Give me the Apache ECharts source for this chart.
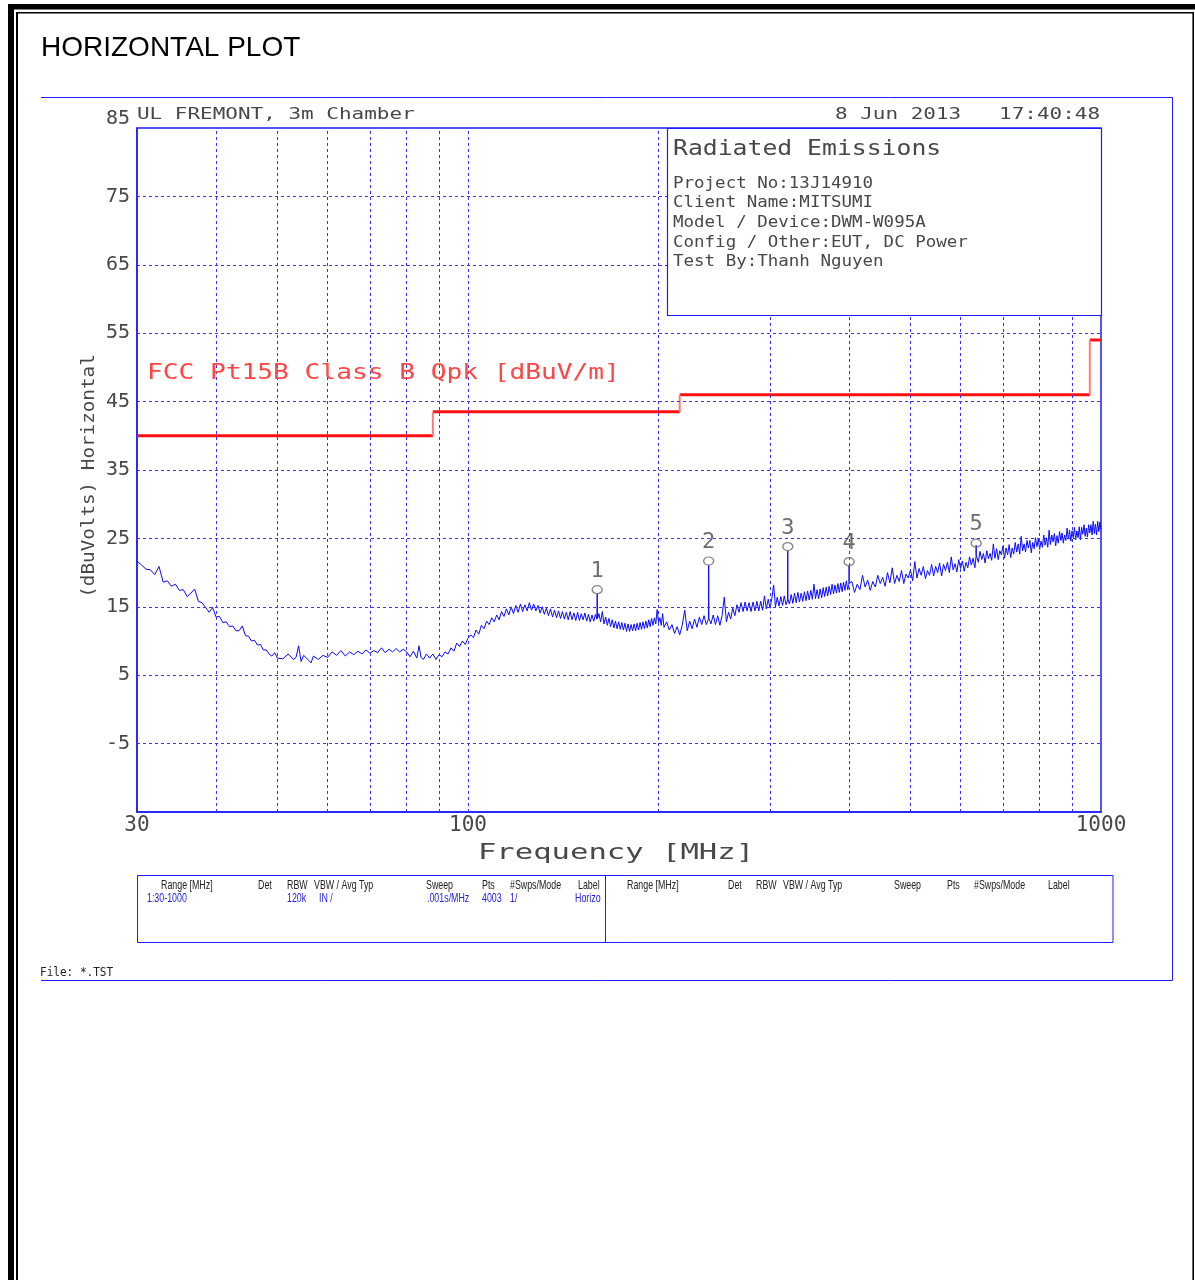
<!DOCTYPE html>
<html><head><meta charset="utf-8">
<script src="https://cdn.jsdelivr.net/npm/echarts@6/dist/echarts.min.js"></script>
<style>html,body{margin:0;padding:0;background:#fff}#c{width:1195px;height:1280px}</style>
</head><body><div id="c"></div>
<script>
// ---------- data ----------
const xTickLabels = [30, 100, 1000];
const xGridMHz = [40, 50, 60, 70, 80, 90, 100, 200, 300, 400, 500, 600, 700, 800, 900];
const yTickLabels = [85, 75, 65, 55, 45, 35, 25, 15, 5, -5];
const limitEdgesMHz = [30, 88, 216, 960, 1000];
const limitLevels = [40, 43.5, 46, 54];
const markerMHz = [160, 240, 320, 400, 635];
const markerLevels = [17.5, 21.7, 23.8, 21.6, 24.3];
const markerNames = ['1', '2', '3', '4', '5'];
const trace = [
[30,21.7],[30.5,21.1],[31,20.5],[31.5,20.4],[32,19.7],[32.5,20.9],[33,18.6],[33.5,18.8],[34,18.0],[34.5,18.3],
[35,17.4],[35.5,17.5],[36,16.5],[36.5,17.0],[37,17.6],[37.5,15.8],[38,15.6],[38.5,14.9],[39,14.2],[39.5,14.9],
[40,13.5],[40.5,13.6],[41,12.7],[41.5,12.8],[42,12.1],[42.5,12.2],[43,11.5],[43.5,11.5],[44,12.2],[44.5,10.8],
[45,10.7],[45.5,10.0],[46,10.1],[46.5,9.4],[47,9.5],[47.5,8.7],[48,8.7],[48.5,8.1],[49,7.8],[49.5,8.3],[50,7.5],
[51,7.4],[52,8.1],[53,7.3],[53.5,7.6],[54,9.3],[54.5,7.0],[55,7.9],[56,7.2],[56.5,6.8],[57,7.8],[58,7.3],[59,7.9],
[60,7.6],[61,8.4],[62,7.9],[63,8.6],[64,7.8],[65,8.4],[66,8.0],[67,8.5],[68,8.1],[69,8.7],[70,8.2],[71,8.6],
[72,8.3],[73,9.0],[74,8.3],[75,8.8],[76,8.4],[77,8.9],[78,8.4],[79,8.8],[80,8.4],[81,7.7],[82,8.5],[83,7.5],
[83.7,9.3],[84.3,7.6],[85,7.3],[86,8.1],[87,7.5],[88,8.1],[89,7.3],[90,8.0],[91,7.7],[92,8.4],[93,8.1],[94,9.0],
[95,8.5],[96,9.7],[97,9.2],[98,10.0],[99,9.5],[100,10.4],
[101,10.9],[102,10.5],[103,11.6],[104,11.0],[105,12.3],[106,11.8],[107,12.9],[108,12.4],[109,13.4],[110,12.8],
[111,13.8],[112,13.1],[113,14.3],[114,13.6],[115,14.7],[116,13.8],[117,15.0],[118,14.0],[119,15.2],[120,14.2],
[121,15.4],[122,14.3],[123,15.3],[124,14.4],[125,15.6],[126,14.5],[127,15.4],[128,14.4],[129,15.2],[130,14.1],
[131,15.0],[132,13.9],[133,14.8],[134,13.7],[135,14.7],[136,13.5],[137,14.5],[138,13.4],[139,14.4],[140,13.3],
[141,14.3],[142,13.2],[143,14.2],[144,13.1],[145,14.3],[146,13.1],[147,14.1],[148,13.0],[149,14.2],[150,13.0],
[151,14.0],[152,13.1],[153,14.1],[154,12.9],[155,13.9],[156,12.8],[157,13.8],[158,12.9],[159,13.9],[159.8,13.2],
[160,16.9],[160.2,13.3],[161,14.0],[162,12.8],[163,14.3],[164,12.5],[165,13.5],[166,12.3],[167,13.3],[168,12.1],
[169,13.1],[170,11.9],[171,12.9],[172,11.8],[173,12.8],[174,11.7],[175,12.7],[176,11.6],[177,12.6],[178,11.4],
[179,12.5],[180,11.4],[181,12.4],[182,11.5],[183,12.5],[184,11.5],[185,12.6],[186,11.6],[187,12.7],[188,11.7],
[189,12.8],[190,11.8],[191,12.9],[192,11.9],[193,13.1],[194,12.1],[195,13.3],[196,12.3],[197,13.4],[198,12.5],
[199,14.6],[200,12.7],[201,13.4],[202,12.3],[203,14.0],[204,12.0],
[206,12.8],[208,11.6],[210,12.4],[212,11.1],[214,12.1],[216,10.9],[218,12.3],[220,14.5],[222,11.5],[224,12.9],
[226,11.8],[228,13.2],[230,12.0],[232,13.5],[234,12.4],[236,13.7],[238,12.4],[239.8,13.2],[240,21.1],[240.2,13.3],
[242,12.5],[244,13.8],[246,12.4],[248,13.7],[250,12.3],[252,13.7],[254,16.4],[256,12.8],[258,14.2],[260,13.2],
[262,14.8],[264,13.7],[266,15.3],[268,14.2],[270,15.6],[272,14.3],[274,15.7],[276,14.4],[278,15.6],[280,14.3],
[282,15.7],[284,14.4],[286,15.8],[288,14.4],[290,15.8],[292,14.5],[294,16.6],[296,14.7],[298,16.1],[300,14.8],
[302,16.2],[304,18.2],[306,15.0],[308,16.4],[310,15.1],[312,16.5],[314,15.2],[316,16.6],[318,15.3],[319.8,16.0],
[320,23.2],[320.2,16.1],[322,15.4],[324,16.8],[326,15.5],[328,17.0],[330,15.6],[332,17.1],[334,15.7],[336,17.0],
[338,15.8],[340,17.2],[342,15.9],[344,17.3],[346,16.0],[348,17.4],[350,16.1],[352,18.3],[354,16.2],[356,17.5],
[358,16.2],[360,17.6],[362,16.3],[364,17.8],[366,16.5],[368,17.9],[370,16.6],[372,18.0],[374,16.8],[376,18.3],
[378,16.9],[380,18.2],[382,17.0],[384,18.4],[386,17.1],[388,18.5],[390,17.2],[392,18.6],[394,17.4],[396,18.8],
[398,17.5],[399.8,18.3],[400,21.0],[400.2,18.4],
[404,18.7],[408,17.1],[412,18.3],[416,17.5],[420,19.6],[424,17.9],[428,18.9],[432,17.4],[436,18.7],[440,17.9],
[444,19.6],[448,18.4],[452,19.3],[456,18.0],[460,20.0],[464,18.5],[468,20.7],[472,18.4],[476,19.6],[480,18.7],
[484,20.3],[488,18.4],[492,19.8],[496,19.2],[500,20.4],[504,18.8],[508,21.6],[512,19.2],[516,20.6],[520,19.6],
[524,20.9],[528,19.1],[532,20.3],[536,19.6],[540,21.2],[544,19.5],[548,20.9],[552,20.0],[556,21.4],[560,19.5],
[564,21.2],[568,20.3],[572,21.5],[576,20.0],[580,22.3],[584,20.4],[588,21.3],[592,20.1],[596,21.9],[600,20.6],
[604,21.7],[608,20.2],[612,21.5],[616,20.7],[620,22.3],[624,21.1],[628,22.1],[632,20.7],[634.8,22.4],[635,24.0],
[635.2,22.6],[640,21.5],[644,23.1],[648,21.9],[652,22.8],[656,21.4],[660,23.2],[664,22.0],[668,22.8],[672,21.8],
[676,24.2],[680,22.1],[684,23.5],[688,21.9],[692,23.2],[696,22.6],[700,23.9],[704,22.1],[708,23.6],[712,22.6],
[716,24.1],[720,22.2],[724,23.6],[728,22.7],[732,24.4],[736,23.0],[740,24.2],[744,22.7],[748,25.3],[752,23.2],
[756,24.2],[760,23.0],[764,24.7],[768,23.6],[772,24.7],[776,22.9],[780,24.4],[784,23.5],[788,25.1],[792,23.8],
[796,24.9],[800,23.4],[804,24.6],[808,23.7],[812,25.5],[816,24.0],[820,25.1],[824,23.7],[828,26.2],[832,24.1],
[836,25.5],[840,24.5],[844,25.7],[848,23.9],[852,25.4],[856,24.3],[860,26.0],[864,24.7],[868,25.8],[872,24.3],
[876,25.5],[880,24.7],[884,26.5],[888,24.9],[892,26.2],[896,24.6],[900,26.1],[904,25.1],[908,26.6],[912,24.8],
[916,26.1],[920,25.1],[924,26.7],[928,24.8],[932,26.6],[936,25.6],[940,27.0],[944,25.3],[948,26.5],[952,25.2],
[956,27.0],[960,25.8],[964,27.0],[968,25.5],[972,27.5],[976,25.7],[980,27.1],[984,25.5],[988,27.5],[992,26.0],
[996,27.4],[1000,26.3]
];
const infoLines = ['Project No:13J14910', 'Client Name:MITSUMI', 'Model / Device:DWM-W095A', 'Config / Other:EUT, DC Power', 'Test By:Thanh Nguyen'];
const tableHeaders = ['Range [MHz]', 'Det', 'RBW', 'VBW / Avg Typ', 'Sweep', 'Pts', '#Swps/Mode', 'Label'];
const tableRow1 = ['1:30-1000', '', '120k', 'IN /', '.001s/MHz', '4003', '1/', 'Horizo'];

// ---------- chart ----------
const BLUE = '#1c1cff';
const GRID_BLUE = '#3535ff';
const MONO = '"DejaVu Sans Mono", monospace';
const INK = '#484848';

function txt(x, y, text, o) {
  o = o || {};
  return {
    type: 'text', x: x, y: y, scaleX: o.sx || 1, rotation: o.rot || 0, z: 100, silent: true,
    style: {
      text: text, fill: o.color || INK,
      fontSize: o.size || 16, fontFamily: o.family || MONO, fontWeight: 'normal',
      align: o.align || 'left', verticalAlign: 'middle',
      textAlign: o.align || 'left', textVerticalAlign: 'middle'
    }
  };
}
function rect(x, y, w, h, fill, stroke, lw, z) {
  return { type: 'rect', z: z || 100, silent: true, shape: { x: x, y: y, width: w, height: h },
    style: { fill: fill || 'none', stroke: stroke || 'none', lineWidth: lw || 0 } };
}
function line(x1, y1, x2, y2, color, lw) {
  return { type: 'line', z: 100, silent: true, shape: { x1: x1, y1: y1, x2: x2, y2: y2 },
    style: { stroke: color, lineWidth: lw || 1 } };
}

const series = [];
// grid lines + y tick labels, positioned through the axes' scales
series.push({
  type: 'line', data: [], silent: true, z: 1, animation: false,
  markLine: {
    silent: true, animation: false, symbol: ['none', 'none'],
    lineStyle: { color: GRID_BLUE, type: [3, 3], width: 1 },
    label: { show: false },
    data: [].concat(
      xGridMHz.map(v => ({ xAxis: v })),
      yTickLabels.map(v => ({
        yAxis: v,
        lineStyle: v === 85 ? { color: 'rgba(0,0,0,0)' } : undefined,
        label: {
          show: true, position: 'start', distance: 7, formatter: String(v),
          color: INK, fontSize: 20, fontFamily: MONO,
          offset: v === 85 ? [0, -9] : [0, 0]
        }
      }))
    )
  }
});
// measured trace
series.push({
  type: 'line', data: trace, symbol: 'none', showSymbol: false, silent: true, z: 3,
  animation: false, lineStyle: { color: '#0a0aff', width: 1 }
});
// limit line
limitLevels.forEach((lv, i) => {
  series.push({
    type: 'line', data: [[limitEdgesMHz[i], lv], [limitEdgesMHz[i + 1], lv]], symbol: 'none',
    silent: true, z: 4, animation: false, lineStyle: { color: '#ff1010', width: 3 }
  });
  if (i > 0) {
    series.push({
      type: 'line', data: [[limitEdgesMHz[i], limitLevels[i - 1]], [limitEdgesMHz[i], lv]], symbol: 'none',
      silent: true, z: 4, animation: false, lineStyle: { color: '#ff7a7a', width: 2 }
    });
  }
});
// markers
series.push({
  type: 'scatter', z: 5, silent: true, animation: false,
  data: markerMHz.map((f, i) => ({ value: [f, markerLevels[i]], name: markerNames[i] })),
  symbol: 'circle', symbolSize: [10, 8],
  itemStyle: { color: 'rgba(255,255,255,0)', borderColor: '#6a6a6a', borderWidth: 1.3 },
  label: { show: true, position: 'top', distance: 3, formatter: '{b}', color: '#4a4a4a', fontSize: 22, fontFamily: MONO }
});

const graphics = [];
// page borders
graphics.push(rect(8, 4, 6, 1276, '#000'));
graphics.push(rect(8, 4, 1187, 5.5, '#000'));
graphics.push(rect(16, 12, 2, 1268, '#000'));
graphics.push(rect(16, 12, 1178, 1.6, '#000'));
graphics.push(rect(1192.4, 12, 1.6, 1268, '#000'));
// outer blue frame
graphics.push(line(41, 97.5, 1172.5, 97.5, BLUE, 1));
graphics.push(line(1172.5, 97.5, 1172.5, 980.5, BLUE, 1));
graphics.push(line(41, 980.5, 1172.5, 980.5, BLUE, 1));
// title
graphics.push(txt(41, 48, 'HORIZONTAL PLOT', { size: 28, family: '"Liberation Sans", Arial, sans-serif', color: '#000' }));
// header
graphics.push(txt(137, 115, 'UL FREMONT, 3m Chamber', { size: 16, sx: 1.31 }));
graphics.push(txt(1100, 115, '8 Jun 2013   17:40:48', { size: 16, sx: 1.31, align: 'right' }));
// info box
graphics.push(rect(667.5, 128.5, 434, 187, '#fff', BLUE, 1.2, 90));
graphics.push(txt(673, 149, 'Radiated Emissions', { size: 22, sx: 1.125 }));
infoLines.forEach((s, i) => graphics.push(txt(673, 183.5 + i * 19.6, s, { size: 16.5, sx: 1.06 })));
// limit name
graphics.push(txt(147, 373, 'FCC Pt15B Class B Qpk [dBuV/m]', { size: 22, sx: 1.19, color: '#ff4545' }));
// axis names
graphics.push(txt(616, 853, 'Frequency [MHz]', { size: 22, sx: 1.39, align: 'center' }));
graphics.push(txt(89, 476, '(dBuVolts) Horizontal', { size: 18, sx: 1.07, align: 'center', rot: Math.PI / 2 }));
// settings table
graphics.push(rect(137.5, 875.5, 975.5, 67, 'none', BLUE, 1));
graphics.push(line(605.5, 875.5, 605.5, 942.5, BLUE, 1));
const colL = [161, 258, 287, 314, 426, 482, 510, 578];
const colR = [627, 728, 756, 783, 894, 947, 974, 1048];
const row1X = [147, 0, 287, 319, 427, 482, 510, 575];
const TF = '"Liberation Sans", Arial, sans-serif';
tableHeaders.forEach((h, i) => {
  graphics.push(txt(colL[i], 885, h, { size: 13, sx: 0.68, family: TF, color: '#222' }));
  graphics.push(txt(colR[i], 885, h, { size: 13, sx: 0.68, family: TF, color: '#222' }));
});
tableRow1.forEach((s, i) => {
  if (s) graphics.push(txt(row1X[i], 898, s, { size: 13, sx: 0.68, family: TF, color: '#2222dd' }));
});
graphics.push(txt(40, 973, 'File: *.TST', { size: 13, sx: 0.85, color: '#222' }));

const option = {
  backgroundColor: '#fff',
  animation: false,
  grid: { left: 137, top: 128, width: 964, height: 684, show: true, borderColor: BLUE, borderWidth: 1.5, backgroundColor: '#fff' },
  xAxis: {
    type: 'log', logBase: 10, min: 30, max: 1000,
    axisLine: { show: true, onZero: false, lineStyle: { color: BLUE, width: 1.5 } },
    axisTick: { show: false }, splitLine: { show: false }, minorTick: { show: false }, minorSplitLine: { show: false },
    axisLabel: {
      show: true, showMinLabel: true, showMaxLabel: true, color: INK, fontSize: 21, fontFamily: MONO, margin: 3,
      formatter: function (v) { const r = Math.round(v); return xTickLabels.indexOf(r) >= 0 ? String(r) : ''; }
    }
  },
  yAxis: {
    type: 'value', min: -15, max: 85,
    axisLine: { show: true, onZero: false, lineStyle: { color: BLUE, width: 1.5 } },
    axisTick: { show: false }, splitLine: { show: false }, axisLabel: { show: false }
  },
  series: series,
  graphic: { elements: graphics }
};
const chart = echarts.init(document.getElementById('c'));
chart.setOption(option);
</script>
</body></html>
